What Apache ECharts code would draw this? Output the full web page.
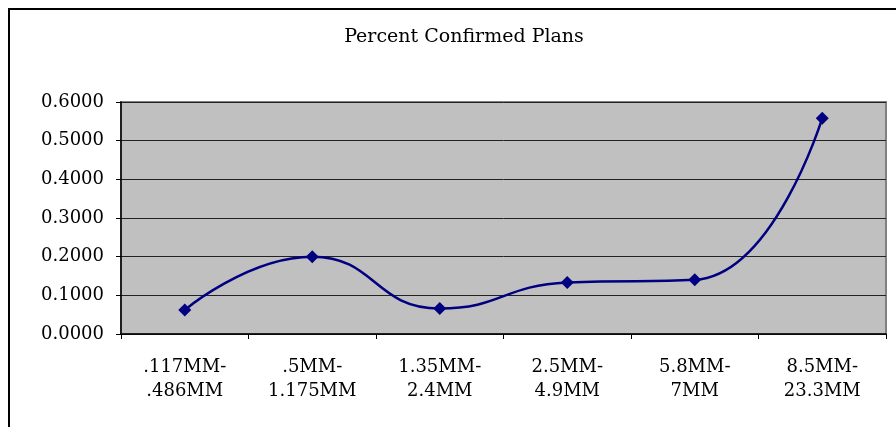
<!DOCTYPE html>
<html>
<head>
<meta charset="utf-8">
<script src="https://cdn.jsdelivr.net/npm/echarts@6/dist/echarts.min.js"></script>
<style>
  html, body { margin: 0; padding: 0; background: #fff; }
  #chart { width: 896px; height: 427px; }
</style>
</head>
<body>
<div id="chart"></div>
<script>
// Plan size bands (two-line labels) and the share of confirmed plans in each
const categories = [
  '.117MM-\n.486MM',
  '.5MM-\n1.175MM',
  '1.35MM-\n2.4MM',
  '2.5MM-\n4.9MM',
  '5.8MM-\n7MM',
  '8.5MM-\n23.3MM'
];
const percentConfirmed = [0.062, 0.200, 0.066, 0.133, 0.140, 0.558];
const yTicks = { min: 0, max: 0.6, step: 0.1 };
const chartTitle = 'Percent Confirmed Plans';

const FONT = '"DejaVu Serif", "Liberation Serif", serif';

const chart = echarts.init(document.getElementById('chart'), null, { renderer: 'canvas' });
chart.setOption({
  animation: false,
  backgroundColor: '#ffffff',
  title: {
    text: chartTitle,
    left: 459,
    textAlign: 'center',
    top: 23,
    textStyle: { fontFamily: FONT, fontSize: 19, fontWeight: 'normal', color: '#000' }
  },
  graphic: [{
    type: 'rect',
    silent: true,
    shape: { x: 9, y: 9, width: 1000, height: 1000 },
    style: { fill: 'none', stroke: '#000', lineWidth: 2 },
    z: 100
  }],
  grid: {
    left: 121, top: 102, right: 10, bottom: 93,
    show: true,
    backgroundColor: '#c0c0c0',
    borderColor: '#808080',
    borderWidth: 2
  },
  xAxis: {
    type: 'category',
    data: categories,
    boundaryGap: true,
    axisLine: { show: true, lineStyle: { color: '#000', width: 1.5 } },
    axisTick: { show: true, length: 5, lineStyle: { color: '#000' } },
    axisLabel: {
      margin: 21,
      fontFamily: FONT, fontSize: 18, color: '#000',
      lineHeight: 24, align: 'center'
    },
    splitLine: { show: false }
  },
  yAxis: {
    type: 'value',
    min: yTicks.min,
    max: yTicks.max,
    interval: yTicks.step,
    axisLine: { show: true, lineStyle: { color: '#000', width: 1.5 } },
    axisTick: { show: true, length: 5, lineStyle: { color: '#000' } },
    axisLabel: {
      margin: 17,
      fontFamily: FONT, fontSize: 18, color: '#000',
      formatter: v => v.toFixed(4)
    },
    splitLine: { show: true, lineStyle: { color: '#222', width: 1 } }
  },
  series: [{
    type: 'line',
    data: percentConfirmed,
    smooth: 0.5,
    symbol: 'diamond',
    symbolSize: 13,
    lineStyle: { color: '#000080', width: 2.5 },
    itemStyle: { color: '#000080' }
  }]
});
</script>
</body>
</html>
